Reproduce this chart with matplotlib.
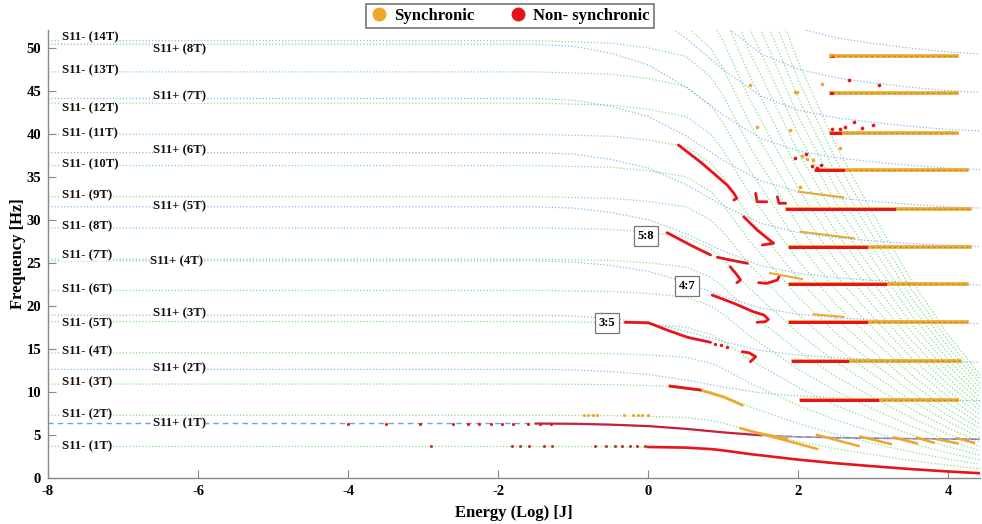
import numpy as np
import matplotlib
matplotlib.use("Agg")
import matplotlib.pyplot as plt
from matplotlib.lines import Line2D

plt.rcParams['font.family'] = ['Liberation Serif', 'DejaVu Serif']
plt.rcParams['font.weight'] = 'bold'
plt.rcParams['axes.unicode_minus'] = False

# ---------------- backbone curves (energy in log10 J, frequency in Hz) --------
energy_minus = [-8.0, -1.5, -0.5, 0.0, 0.5, 0.83, 1.0, 1.35, 1.5, 2.0, 2.5, 3.0, 3.5, 4.0, 4.42]
freq_minus = [3.63, 3.63, 3.61, 3.57, 3.50, 3.33, 3.17, 2.75, 2.60, 2.10, 1.68, 1.33, 1.00, 0.72, 0.52]

energy_plus = [-8.0, -1.5, -1.0, -0.5, 0.0, 0.5, 1.0, 1.5, 2.0, 2.5, 3.0, 3.5, 4.0, 4.42]
freq_plus = [6.30, 6.30, 6.27, 6.17, 6.00, 5.68, 5.27, 4.93, 4.75, 4.65, 4.59, 4.54, 4.50, 4.48]

minus_orders = list(range(1, 24))   # S11- (kT) harmonics
plus_orders = list(range(1, 12))    # S11+ (kT) harmonics

# ---------------- branch labels -------------------------------------------------
minus_label_text = ["S11- (%dT)" % k for k in range(1, 15)]
minus_label_y = [3.60, 7.37, 11.05, 14.65, 17.95, 21.90, 25.90, 29.27, 32.87, 36.48, 40.10, 42.97, 47.40, 51.24]
plus_label_text = ["S11+ (%dT)" % k for k in range(1, 9)]
plus_label_y = [6.33, 12.72, 19.15, 25.12, 31.60, 38.02, 44.30, 49.81]
plus_label_x = [-6.60, -6.60, -6.60, -6.64, -6.60, -6.60, -6.60, -6.60]

# ---------------- non-synchronic branches (red) ----------------------------------
ns_35_E = [-0.31, 0.00, 0.25, 0.52, 0.83]
ns_35_f = [18.07, 18.02, 17.17, 16.33, 15.74]
ns_35_dots_E = [0.89, 0.97, 1.05]
ns_35_dots_f = [15.55, 15.40, 15.23]
ns_hook14_E = [1.25, 1.34, 1.43, 1.36]
ns_hook14_f = [14.65, 14.53, 14.07, 13.49]
ns_47_E = [0.85, 1.14, 1.40, 1.54, 1.60, 1.56, 1.45]
ns_47_f = [21.24, 20.28, 19.30, 18.92, 18.42, 18.14, 18.07]
ns_58a_E = [0.25, 0.55, 0.83]
ns_58a_f = [28.49, 27.10, 25.90]
ns_58b_E = [0.92, 1.10, 1.32]
ns_58b_f = [25.63, 25.30, 24.93]
ns_58c_E = [1.09, 1.18, 1.23, 1.18]
ns_58c_f = [24.53, 23.60, 22.99, 22.68]
ns_wave22_E = [1.47, 1.58, 1.72, 1.74]
ns_wave22_f = [22.68, 22.60, 22.99, 23.37]
ns_27_E = [1.27, 1.45, 1.67, 1.52]
ns_27_f = [30.35, 28.80, 27.26, 27.06]
ns_top_E = [0.40, 0.69, 0.87, 1.05, 1.14, 1.18, 1.14]
ns_top_f = [38.69, 36.74, 35.40, 34.03, 33.07, 32.49, 32.29]
ns_j1_E = [1.43, 1.45, 1.58]
ns_j1_f = [33.07, 32.09, 32.09]
ns_j2_E = [1.72, 1.74, 1.83]
ns_j2_f = [32.67, 31.91, 31.91]

# ---------------- synchronic branches (orange) -----------------------------------
sy_10_E = [0.29, 0.69, 1.00, 1.25]
sy_10_f = [10.65, 10.20, 9.40, 8.45]
sy_10_red_E = [0.29, 0.69]
sy_10_red_f = [10.65, 10.20]
saw_E = [[1.23, 2.25], [1.45, 1.85], [2.25, 2.80], [2.83, 3.23], [3.27, 3.58], [3.58, 3.80], [3.85, 4.12], [4.12, 4.34]]
saw_f = [[5.74, 3.35], [5.20, 4.55], [4.97, 3.69], [4.77, 3.92], [4.69, 4.00], [4.66, 4.07], [4.46, 4.00], [4.58, 4.07]]

# high-energy bands: frequency, start, end of red part, end
band_f = [9.00, 13.62, 18.05, 22.50, 26.86, 31.30, 35.78, 40.12, 44.70, 49.03]
band_start = [2.03, 1.93, 1.89, 1.89, 1.89, 1.85, 2.23, 2.43, 2.43, 2.43]
band_red_end = [3.05, 2.65, 2.90, 3.15, 2.90, 3.27, 2.60, 2.55, 2.45, 2.45]
band_end = [4.12, 4.16, 4.25, 4.25, 4.29, 4.29, 4.25, 4.12, 4.12, 4.12]

# short segments above the bands
side_E = [[2.00, 2.60], [2.03, 2.74], [1.62, 2.05], [2.20, 2.60]]
side_f = [[33.26, 32.60], [28.60, 27.84], [23.80, 23.10], [19.00, 18.70]]

# scattered points
scat_sync_E = [1.36, 1.45, 1.89, 1.98, 2.43, 2.32, 1.96, 2.05, 2.12, 2.20, 2.55, 2.02]
scat_sync_f = [45.66, 40.74, 40.43, 44.90, 49.20, 45.80, 44.90, 37.40, 37.10, 36.90, 38.30, 33.80]
scat_non_E = [3.07, 2.67, 2.74, 2.55, 2.62, 2.85, 3.00, 2.45, 2.30, 2.10, 2.18, 2.25, 1.95]
scat_non_f = [45.70, 46.30, 41.40, 40.60, 40.80, 40.70, 41.00, 40.50, 36.40, 37.60, 36.20, 36.00, 37.20]

# sparse points on the low-energy S11- (1T), S11- (2T) and S11+ (1T) lines
low1_E = [-2.90, -1.82, -1.71, -1.59, -1.39, -1.28, -0.71, -0.56, -0.45, -0.35, -0.25, -0.15, -0.05]
low2_E = [-0.86, -0.80, -0.74, -0.68, -0.33, -0.21, -0.14, -0.08, -0.01]
plus1_dots_E = [-4.0, -3.5, -3.04, -2.6, -2.4, -2.25, -2.1, -1.95, -1.8, -1.6, -1.45, -1.3]

C_SYNC = '#eda72a'
C_NON = '#e8141c'
C_GREEN = '#5bd65b'
C_BLUE = '#5aa6e6'

fig = plt.figure(figsize=(9.82, 5.24), dpi=100)
ax = fig.add_axes([48 / 982, 1 - 477.7 / 524, (980 - 48) / 982, (477.7 - 30) / 524])
ax.set_xlim(-8, 4.42)
ax.set_ylim(0, 52.06)

em = np.array(energy_minus)
fm = np.array(freq_minus)
ep = np.array(energy_plus)
fp = np.array(freq_plus)

for k in minus_orders:
    ax.plot(em, k * fm, color=C_GREEN, lw=0.9, ls=(0, (1, 1.6)), alpha=0.75, zorder=1)
for k in plus_orders:
    if k == 1:
        ax.plot(ep, k * fp, color=C_BLUE, lw=1.0, ls=(0, (4, 3)), alpha=0.95, zorder=1)
    else:
        ax.plot(ep, k * fp, color=C_BLUE, lw=0.9, ls=(0, (1, 1.6)), alpha=0.75, zorder=1)

# S11- (1T) and S11+ (1T) red backbones at higher energy
sel = em >= -0.3
ax.plot(em[sel], fm[sel], color=C_NON, lw=1.9, zorder=4)
mid = (ep >= -1.5) & (ep <= 1.5)
ax.plot(ep[mid], fp[mid], color='#c8203a', lw=1.6, zorder=4)
ax.plot(ep[ep >= 1.5], fp[ep >= 1.5], color='#8a78c0', lw=1.2, alpha=0.75, zorder=4)

ax.scatter(low1_E, [3.63] * len(low1_E), s=5, color='#b8402a', zorder=4, linewidths=0)
ax.scatter(low2_E, [7.25] * len(low2_E), s=5, color=C_SYNC, zorder=4, linewidths=0)
ax.scatter(plus1_dots_E, [6.3] * len(plus1_dots_E), s=5, color=C_NON, zorder=4, linewidths=0)

for E, f in [(ns_35_E, ns_35_f), (ns_hook14_E, ns_hook14_f), (ns_47_E, ns_47_f),
             (ns_58a_E, ns_58a_f), (ns_58b_E, ns_58b_f), (ns_58c_E, ns_58c_f),
             (ns_wave22_E, ns_wave22_f), (ns_27_E, ns_27_f), (ns_top_E, ns_top_f),
             (ns_j1_E, ns_j1_f), (ns_j2_E, ns_j2_f)]:
    ax.plot(E, f, color=C_NON, lw=2.0, solid_capstyle='round', zorder=5)
ax.scatter(ns_35_dots_E, ns_35_dots_f, s=6, color=C_NON, zorder=5, linewidths=0)

ax.plot(sy_10_E, sy_10_f, color=C_SYNC, lw=2.0, zorder=5)
ax.plot(sy_10_red_E, sy_10_red_f, color=C_NON, lw=2.0, zorder=5)
for E, f in zip(saw_E, saw_f):
    ax.plot(E, f, color=C_SYNC, lw=1.8, zorder=5)

for f, s, r, e in zip(band_f, band_start, band_red_end, band_end):
    ax.plot([s, e], [f, f], color=C_SYNC, lw=2.6, zorder=5)
    ax.plot([r, e], [f, f], color='#9a8040', lw=0.8, ls=(0, (2, 3)), alpha=0.7, zorder=6)
    ax.plot([s, r], [f, f], color=C_NON, lw=2.2, zorder=6)
for E, f in zip(side_E, side_f):
    ax.plot(E, f, color=C_SYNC, lw=1.4, zorder=5)
ax.scatter(scat_sync_E, scat_sync_f, s=7, color=C_SYNC, zorder=6, linewidths=0)
ax.scatter(scat_non_E, scat_non_f, s=7, color=C_NON, zorder=6, linewidths=0)

lbl_font = dict(fontsize=9.2, fontweight='bold', color='#111111', va='center', ha='left', zorder=7)
for t, y in zip(minus_label_text, minus_label_y):
    ax.text(-7.82, y, t, bbox=dict(facecolor='white', edgecolor='none', pad=0.3), **lbl_font)
for t, y, x in zip(plus_label_text, plus_label_y, plus_label_x):
    ax.text(x, y, t, bbox=dict(facecolor='white', edgecolor='none', pad=0.3), **lbl_font)

box = dict(facecolor='white', edgecolor='#777777', lw=0.9, pad=2.8)
ax.text(-0.547, 17.97, "3:5", fontsize=9, fontweight='bold', ha='center', va='center', bbox=box, zorder=8)
ax.text(0.516, 22.3, "4:7", fontsize=9, fontweight='bold', ha='center', va='center', bbox=box, zorder=8)
ax.text(-0.03, 28.13, "5:8", fontsize=9, fontweight='bold', ha='center', va='center', bbox=box, zorder=8)

for side in ['top', 'right']:
    ax.spines[side].set_visible(False)
for side in ['left', 'bottom']:
    ax.spines[side].set_color('#888888')
    ax.spines[side].set_linewidth(1.0)
ax.set_xticks([-8, -6, -4, -2, 0, 2, 4])
ax.set_yticks(range(0, 51, 5))
ax.tick_params(direction='in', length=6, width=0.8, color='#888888', labelsize=10.5, pad=5)
for lab in ax.get_xticklabels() + ax.get_yticklabels():
    lab.set_fontweight('bold')
ax.set_xlabel("Energy (Log) [J]", fontsize=12, fontweight='bold', labelpad=5)
ax.set_ylabel("Frequency [Hz]", fontsize=12, fontweight='bold', labelpad=0)

handles = [Line2D([], [], ls='none', marker='o', ms=9, color=C_SYNC, label='Synchronic'),
           Line2D([], [], ls='none', marker='o', ms=9, color=C_NON, label='Non- synchronic')]
leg = fig.legend(handles=handles, loc='upper center', bbox_to_anchor=(510 / 982, 1 - 4 / 524), ncol=2,
                 frameon=True, fancybox=False, edgecolor='#444444', fontsize=12,
                 handletextpad=0.4, columnspacing=2.15, borderpad=0.25, handlelength=1.0,
                 borderaxespad=0.0)
leg.get_frame().set_linewidth(1.1)
for t in leg.get_texts():
    t.set_fontweight('bold')

fig.savefig("out.png", dpi=100)
